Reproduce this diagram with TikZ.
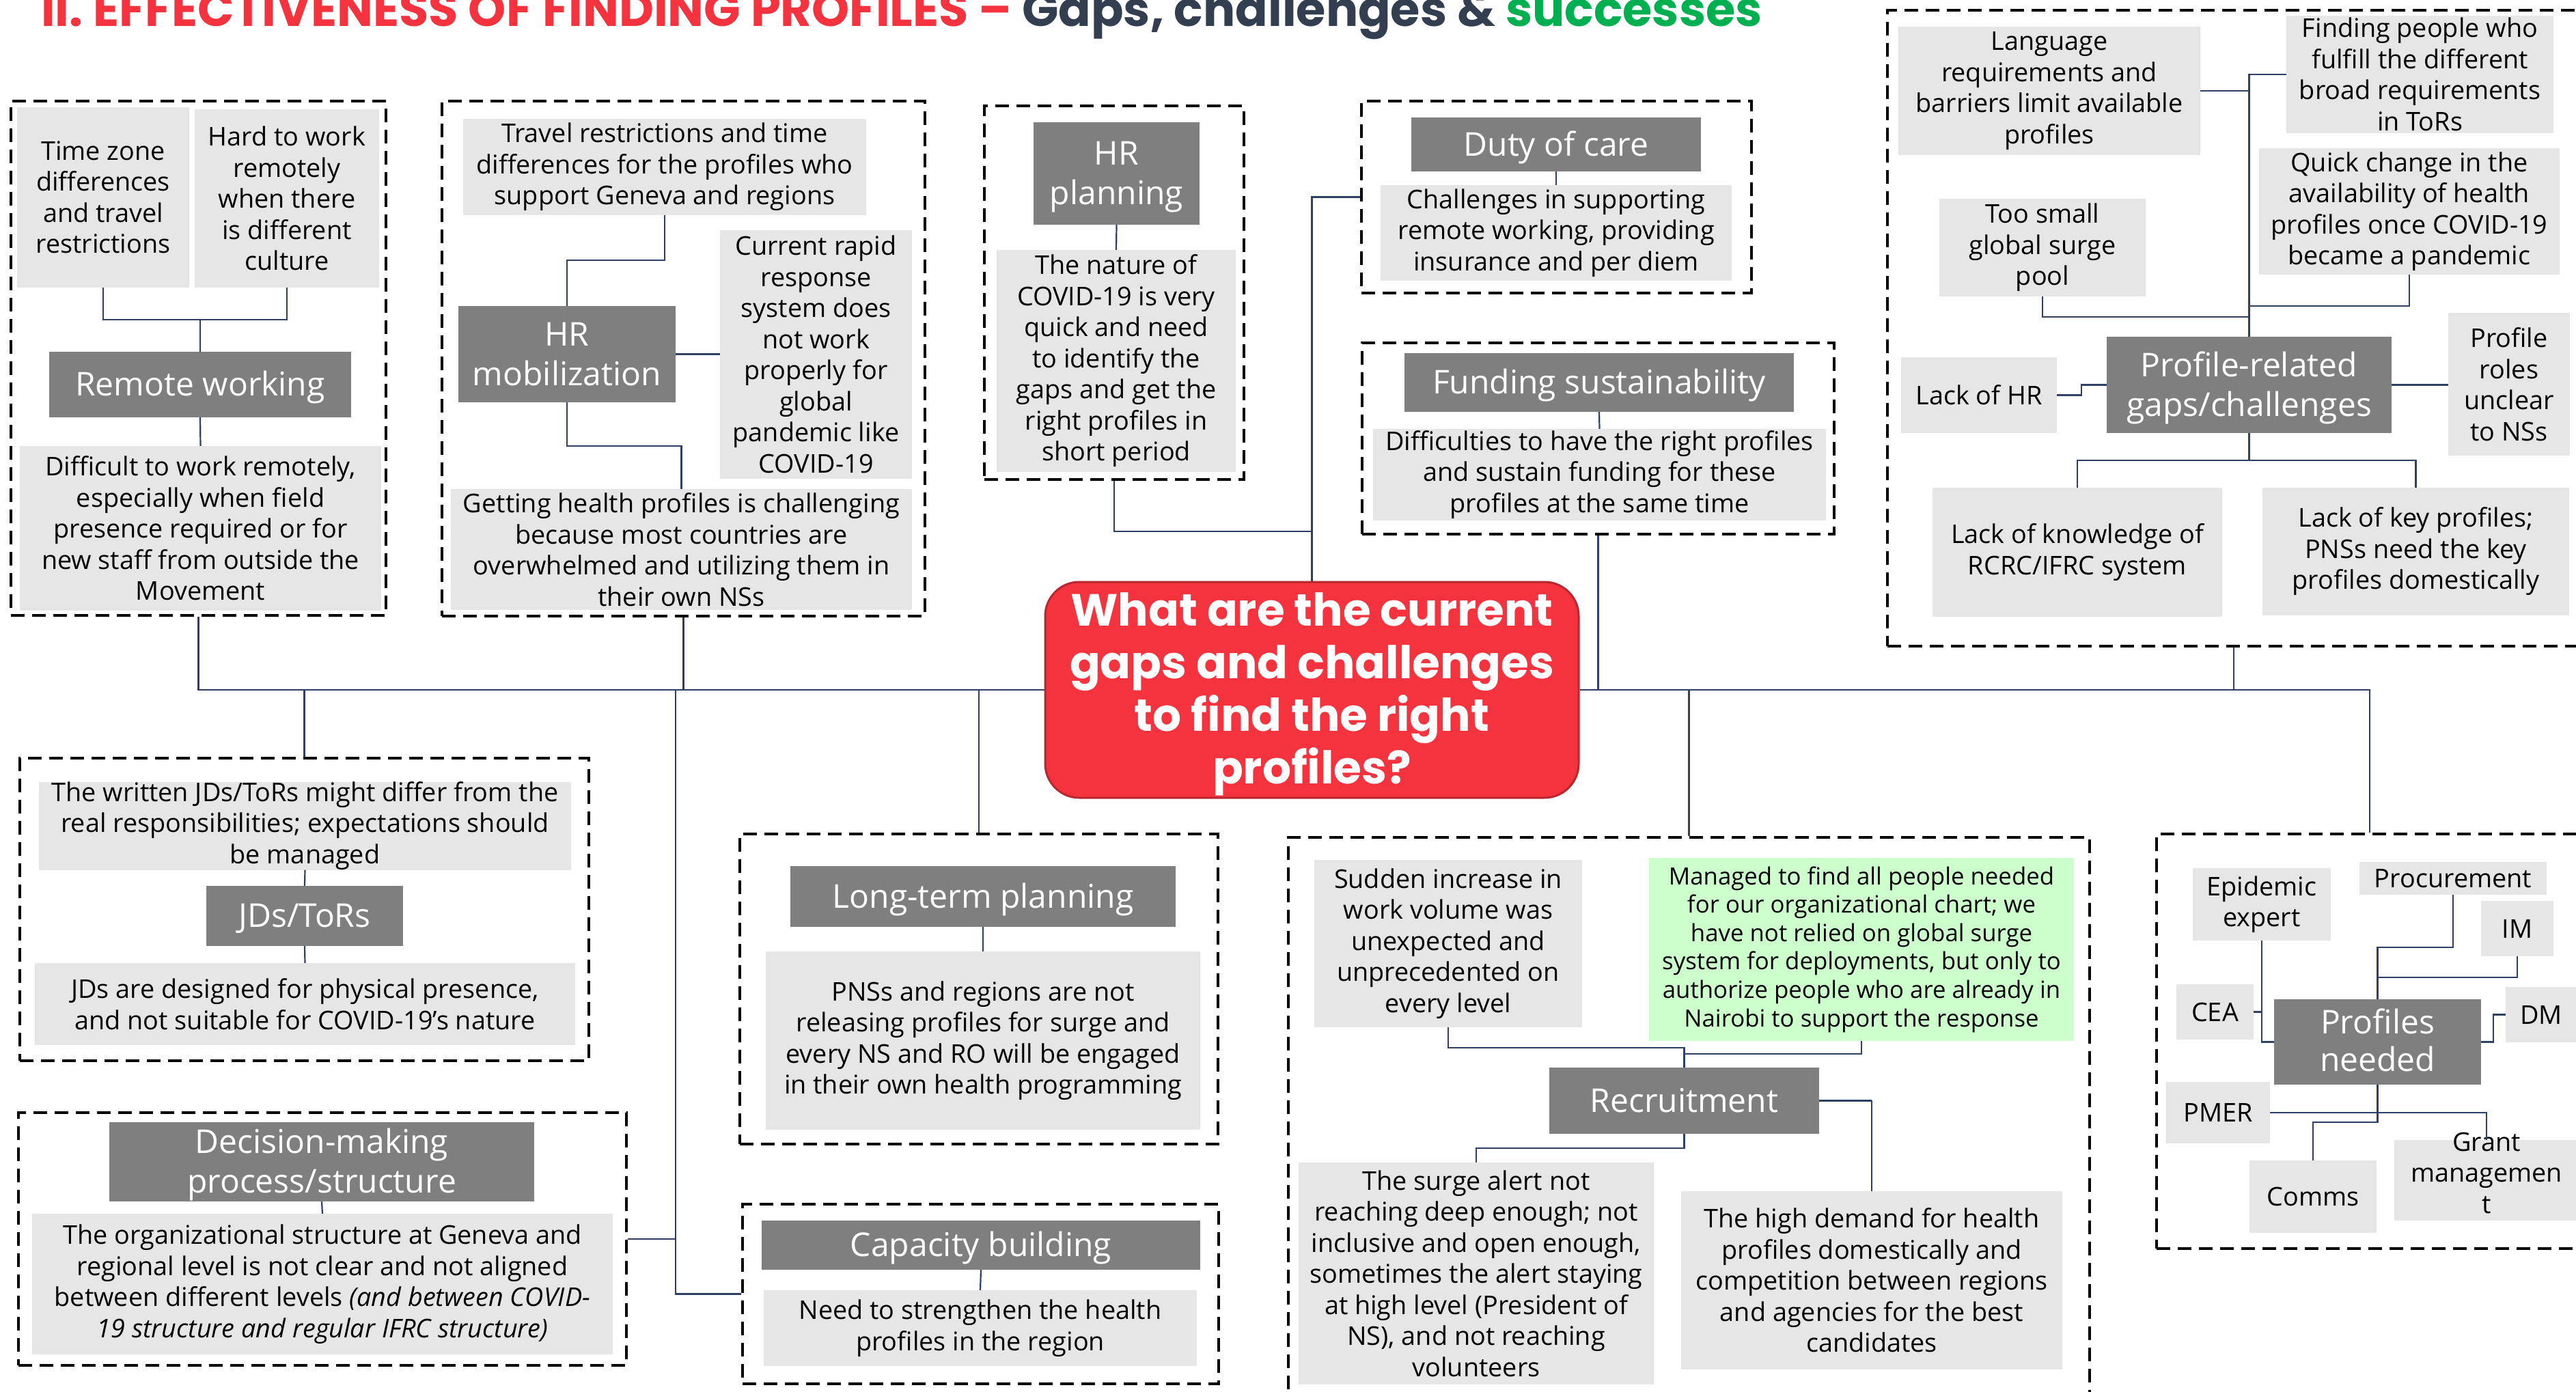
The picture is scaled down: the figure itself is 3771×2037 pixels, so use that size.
\documentclass[tikz,border=0pt]{standalone}
\usepackage{graphicx}
\usepackage{fontspec}
\setmainfont{Open Sans}
\newfontfamily\popfont{Poppins}
\definecolor{labgray}{HTML}{7F7F7F}
\definecolor{cntgray}{HTML}{E7E6E6}
\definecolor{grnbox}{HTML}{CCFFCC}
\definecolor{navy}{HTML}{2E4066}
\definecolor{qred}{HTML}{F4333F}
\definecolor{qborder}{HTML}{B8262E}
\definecolor{tred}{HTML}{F5333F}
\definecolor{tdark}{HTML}{333F50}
\definecolor{tgreen}{HTML}{00B050}
\newcommand\B[7]{\node[#2, minimum width={#5-#3}, minimum height={#6-#4}] (#1) at ({(#3+#5)/2},{(#4+#6)/2}) {#7};}
\newcommand\Lw[2]{\raisebox{-#1pt}[\height][\depth]{\begin{tabular}{@{}c@{}}#2\end{tabular}}}
\tikzset{
  lab/.style={fill=labgray, text=white, font=\fontsize{48}{58}\selectfont, align=center, inner sep=0},
  cnt/.style={fill=cntgray, text=black, font=\fontsize{37.8}{45.5}\selectfont, align=center, inner sep=0},
  grn/.style={fill=grnbox, text=black, font=\fontsize{34.8}{41.6}\selectfont, align=center, inner sep=0},
  dbx/.style={draw=black, line width=3.5pt, dash pattern=on 20pt off 11pt, inner sep=0},
  conn/.style={draw=navy, line width=2.2pt},
  ctr/.style={fill=qred, draw=qborder, line width=3pt, rounded corners=50pt, text=white, align=center, inner sep=0, font=\popfont\bfseries\fontsize{66}{77}\selectfont}
}
\begin{document}
\begin{tikzpicture}[x=1pt,y=-1pt]
\useasboundingbox (0,0) rectangle (3771,2037);
\clip (0,0) rectangle (3771,2037);
% title
\node[anchor=base west, inner sep=0] (title) at (60,38) {\resizebox{2518pt}{!}{\popfont\bfseries\color{tred}II. EFFECTIVENESS OF FINDING PROFILES – \color{tdark}Gaps, challenges \& \color{tgreen}successes}};
% containers
\B{rwc}{dbx}{16}{148}{565}{901}{}
\B{hmc}{dbx}{647}{148}{1354}{902}{}
\B{hpc}{dbx}{1441}{155}{1821}{702}{}
\B{doc}{dbx}{1993}{148}{2564}{429}{}
\B{fsc}{dbx}{1994}{502}{2685}{782}{}
\B{prc}{dbx}{2763}{15}{3777}{946}{}
\B{jdc}{dbx}{29}{1110}{862}{1553}{}
\B{dmc}{dbx}{27}{1629}{917}{1999}{}
\B{ltc}{dbx}{1083}{1221}{1783}{1675}{}
\B{cbc}{dbx}{1087}{1763}{1784}{2026}{}
\B{rcc}{dbx}{1886}{1226}{3059}{2060}{}
\B{pnc}{dbx}{3157}{1221}{3781}{1828}{}
% central
\node[ctr, minimum width=781pt, minimum height=316pt] (q) at (1920.5,1010) {\Lw{7}{What are the current\\gaps and challenges\\to find the right\\profiles?}};
% remote working
\B{tz}{cnt}{25}{157}{277}{421}{Time zone\\differences\\and travel\\restrictions}
\B{hw}{cnt}{285}{160}{555}{421}{Hard to work\\remotely\\when there\\is different\\culture}
\B{rw}{lab}{72}{515}{514}{611}{\Lw{5}{Remote working}}
\B{dr}{cnt}{29}{653}{558}{894}{Difficult to work remotely,\\especially when field\\presence required or for\\new staff from outside the\\Movement}
% HR mobilization
\B{tr}{cnt}{678}{174}{1268}{315}{Travel restrictions and time\\differences for the profiles who\\support Geneva and regions}
\B{hrm}{lab}{671}{448}{989}{589}{\Lw{5}{HR\\mobilization}}
\B{cr}{cnt}{1054}{337}{1335}{701}{Current rapid\\response\\system does\\not work\\properly for\\global\\pandemic like\\COVID-19}
\B{gh}{cnt}{660}{716}{1335}{893}{Getting health profiles is challenging\\because most countries are\\overwhelmed and utilizing them in\\their own NSs}
% HR planning
\B{hpl}{lab}{1513}{179}{1756}{329}{\Lw{5}{HR\\planning}}
\B{nat}{cnt}{1459}{366}{1809}{691}{The nature of\\COVID-19 is very\\quick and need\\to identify the\\gaps and get the\\right profiles in\\short period}
% duty of care
\B{dl}{lab}{2066}{172}{2490}{251}{\Lw{5}{Duty of care}}
\B{dc}{cnt}{2021}{271}{2535}{411}{Challenges in supporting\\remote working, providing\\insurance and per diem}
% funding
\B{fl}{lab}{2056}{517}{2626}{603}{\Lw{5}{Funding sustainability}}
\B{fd}{cnt}{2010}{628}{2673}{762}{Difficulties to have the right profiles\\and sustain funding for these\\profiles at the same time}
% profile-related
\B{lang}{cnt}{2779}{39}{3221}{227}{Language\\requirements and\\barriers limit available\\profiles}
\B{find}{cnt}{3347}{23}{3738}{195}{Finding people who\\fulfill the different\\broad requirements\\in ToRs}
\B{quick}{cnt}{3307}{217}{3747}{402}{Quick change in the\\availability of health\\profiles once COVID-19\\became a pandemic}
\B{small}{cnt}{2839}{291}{3141}{434}{Too small\\global surge\\pool}
\B{lhr}{cnt}{2783}{523}{3011}{634}{Lack of HR}
\B{pr}{lab}{3084}{493}{3501}{634}{\Lw{5}{Profile-related\\gaps/challenges}}
\B{roles}{cnt}{3584}{458}{3762}{667}{Profile\\roles\\unclear\\to NSs}
\B{know}{cnt}{2829}{714}{3253}{903}{Lack of knowledge of\\RCRC/IFRC system}
\B{key}{cnt}{3312}{714}{3761}{901}{Lack of key profiles;\\PNSs need the key\\profiles domestically}
% JDs
\B{wr}{cnt}{57}{1149}{836}{1269}{The written JDs/ToRs might differ from the\\real responsibilities; expectations should\\be managed}
\B{jt}{lab}{302}{1297}{590}{1385}{\Lw{5}{JDs/ToRs}}
\B{jd}{cnt}{51}{1410}{842}{1530}{JDs are designed for physical presence,\\and not suitable for COVID-19’s nature}
% decision making
\B{dml}{lab}{160}{1643}{782}{1759}{\Lw{5}{Decision-making\\process/structure}}
\B{org}{cnt}{47}{1777}{897}{1983}{The organizational structure at Geneva and\\regional level is not clear and not aligned\\between different levels \textit{(and between COVID-}\\\textit{19 structure and regular IFRC structure)}}
% long-term
\B{ltl}{lab}{1157}{1268}{1721}{1357}{\Lw{5}{Long-term planning}}
\B{pns}{cnt}{1121}{1393}{1757}{1654}{PNSs and regions are not\\releasing profiles for surge and\\every NS and RO will be engaged\\in their own health programming}
% capacity
\B{cbl}{lab}{1115}{1787}{1757}{1859}{\Lw{5}{Capacity building}}
\B{need}{cnt}{1118}{1889}{1752}{2000}{Need to strengthen the health\\profiles in the region}
% recruitment
\B{sud}{cnt}{1924}{1259}{2316}{1504}{Sudden increase in\\work volume was\\unexpected and\\unprecedented on\\every level}
\B{man}{grn}{2414}{1256}{3036}{1524}{Managed to find all people needed\\for our organizational chart; we\\have not relied on global surge\\system for deployments, but only to\\authorize people who are already in\\Nairobi to support the response}
\B{rl}{lab}{2268}{1563}{2663}{1660}{\Lw{5}{Recruitment}}
\B{surge}{cnt}{1901}{1702}{2421}{2027}{The surge alert not\\reaching deep enough; not\\inclusive and open enough,\\sometimes the alert staying\\at high level (President of\\NS), and not reaching\\volunteers}
\B{high}{cnt}{2461}{1744}{3019}{2005}{The high demand for health\\profiles domestically and\\competition between regions\\and agencies for the best\\candidates}
% profiles needed
\B{epi}{cnt}{3210}{1271}{3412}{1377}{Epidemic\\expert}
\B{proc}{cnt}{3454}{1262}{3728}{1310}{Procurement}
\B{im}{cnt}{3632}{1319}{3738}{1400}{IM}
\B{cea}{cnt}{3186}{1441}{3299}{1522}{CEA}
\B{pn}{lab, font=\fontsize{48}{55}\selectfont}{3329}{1463}{3632}{1588}{\Lw{4}{Profiles\\needed}}
\B{dm}{cnt}{3668}{1445}{3772}{1526}{DM}
\B{pmer}{cnt}{3171}{1584}{3323}{1674}{PMER}
\B{comms}{cnt}{3293}{1699}{3479}{1805}{Comms}
\B{grant}{cnt}{3505}{1669}{3775}{1787}{\smash{\begin{tabular}{@{}c@{}}Grant\\managemen\\t\end{tabular}}}
% junction coordinates
\coordinate (j989) at (989,1010);
\coordinate (j778) at (1920.5,778);
% connectors: trunk
\draw[conn] (q.west) -| (rwc.south);
\draw[conn] (q.east) -| (pnc.north);
\draw[conn] (hmc.south) -- (hmc.south |- q.west);
\draw[conn] (jdc.north) -- (jdc.north |- q.west);
\draw[conn] (ltc.north) -- (ltc.north |- q.west);
\draw[conn] (fsc.south) -- (fsc.south |- q.east);
\draw[conn] (prc.south) -- (prc.south |- q.east);
\draw[conn] (rcc.north) -- (rcc.north |- q.east);
\draw[conn] (dmc.east) -| (j989) |- (cbc.west);
\draw[conn] (q.north) |- (doc.west);
\draw[conn] (hpc.south) |- (j778);
% remote working
\draw[conn] (tz.south) -- ++(0,47) -| (hw.south);
\draw[conn] (rw.north) -- (rw.north |- 0,468);
\draw[conn] (rw.south) -- (dr.north);
% HR mobilization
\draw[conn] (tr.south) -- ++(0,66) -| (hrm.north);
\draw[conn] (hrm.east) -- (hrm.east -| cr.west);
\draw[conn] (hrm.south) -- ++(0,64) -| (gh.north);
% HR planning, duty, funding
\draw[conn] (hpl.south) -- (nat.north);
\draw[conn] (dl.south) -- (dc.north);
\draw[conn] (fl.south) -- (fd.north);
% profile-related
\draw[conn] (pr.north) |- (find.west);
\draw[conn] (lang.east) -- (lang.east -| pr.north);
\draw[conn] (small.south) -- ++(0,30) -| (pr.north);
\draw[conn] (quick.south) -- ++(0,46) -| (pr.north);
\draw[conn] (lhr.east) -- ++(36,0) |- (pr.west);
\draw[conn] (pr.east) -- (pr.east -| roles.west);
\draw[conn] (pr.south) -- ++(0,40) -| (know.north);
\draw[conn] (pr.south) -- ++(0,40) -| (key.north);
% JDs, decision, long-term, capacity
\draw[conn] (jt.north) -- (wr.south);
\draw[conn] (jt.south) -- (jd.north);
\draw[conn] (dml.south) -- (org.north);
\draw[conn] (ltl.south) -- (pns.north);
\draw[conn] (cbl.south) -- (need.north);
% recruitment
\draw[conn] (sud.south) -- ++(0,30) -| (rl.north);
\draw[conn] (man.south) -- ++(0,19) -| (rl.north);
\draw[conn] (rl.south) -- ++(0,21) -| (surge.north);
\draw[conn] (rl.east) -- ++(77,0) -| (high.north);
% profiles needed
\draw[conn] (epi.south) |- (pn.west);
\draw[conn] (cea.east) -- (cea.east -| epi.south);
\draw[conn] (proc.south) -- ++(0,77) -| (pn.north);
\draw[conn] (im.south) -- ++(0,31) -| (pn.north);
\draw[conn] (pn.east) -- ++(18,0) |- (dm.west);
\draw[conn] (pn.south) -- ++(0,55) -| (comms.north);
\draw[conn] (pmer.east) -| (grant.north);
\end{tikzpicture}
\end{document}
